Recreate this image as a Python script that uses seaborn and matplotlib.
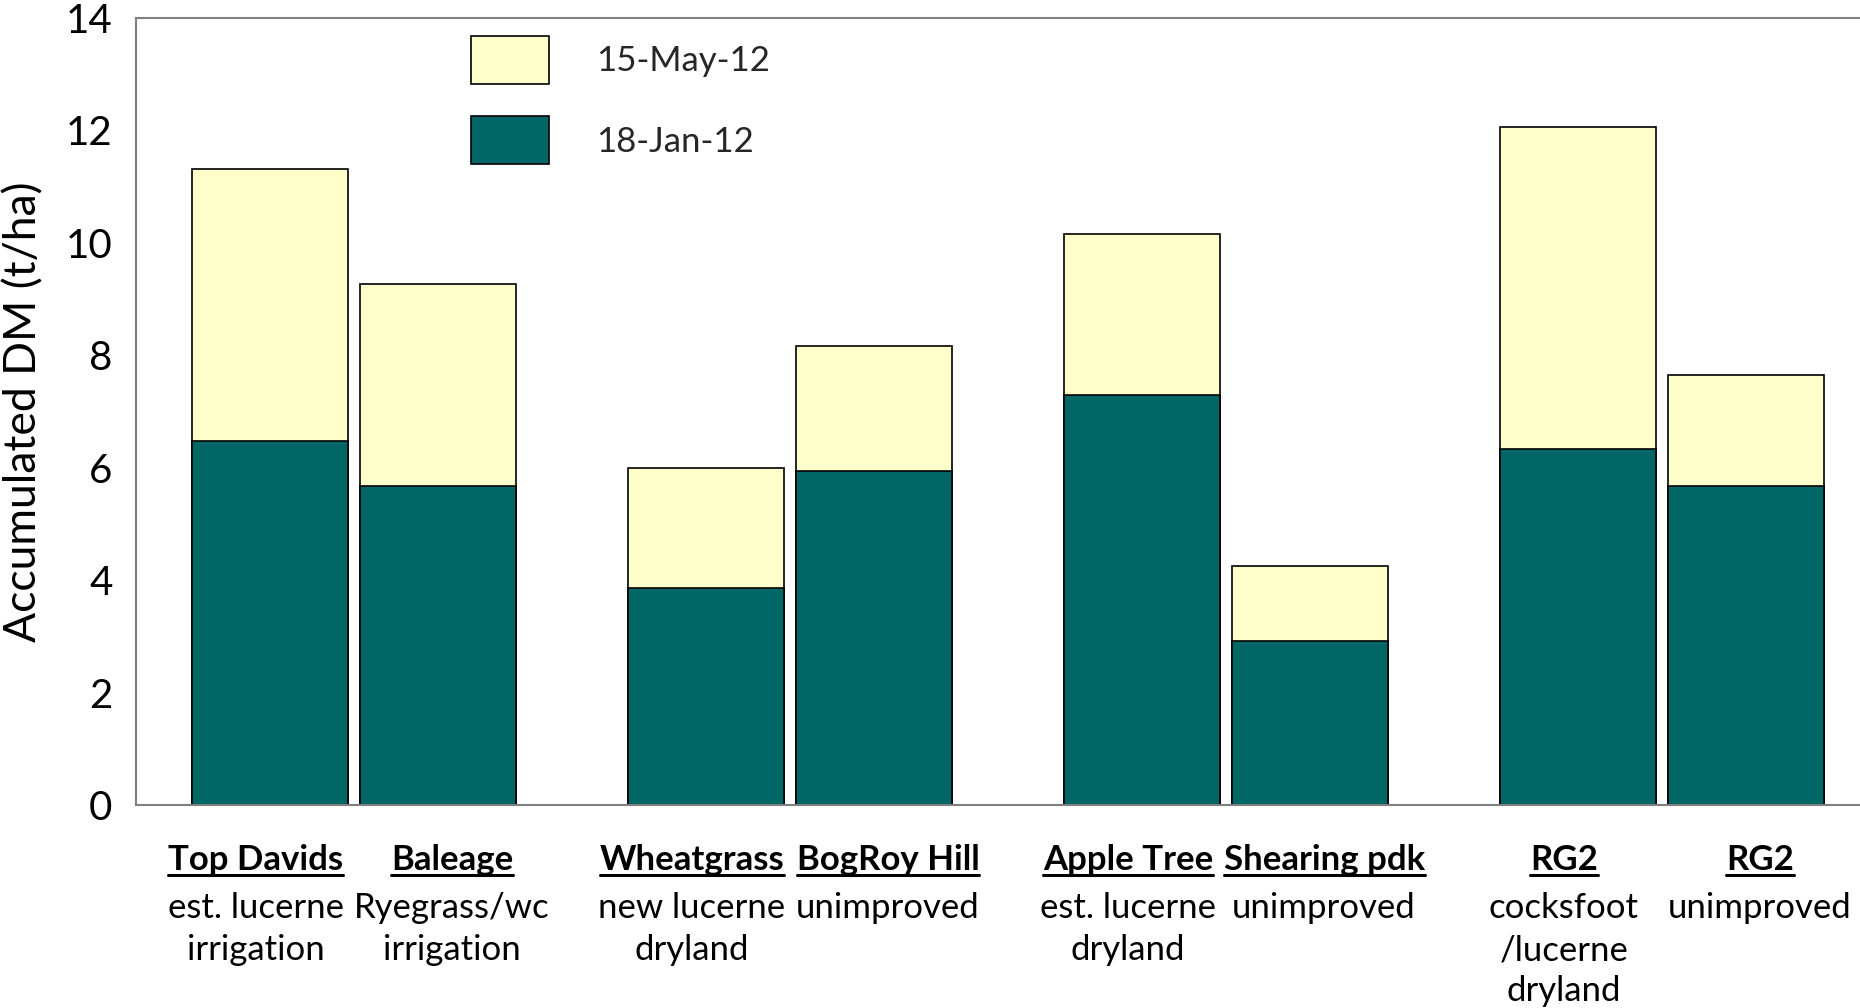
import matplotlib
matplotlib.use("Agg")
import matplotlib.pyplot as plt
from matplotlib.patches import Patch
from matplotlib.lines import Line2D
from matplotlib.transforms import blended_transform_factory
import seaborn as sns
import pandas as pd

# ---- data -------------------------------------------------------------
sites = ["Top Davids", "Baleage", "Wheatgrass", "BogRoy Hill",
         "Apple Tree", "Shearing pdk", "RG2", "RG2"]
site_notes = [["est. lucerne", "irrigation"],
              ["Ryegrass/wc", "irrigation"],
              ["new lucerne", "dryland"],
              ["unimproved"],
              ["est. lucerne", "dryland"],
              ["unimproved"],
              ["cocksfoot", "/lucerne", "dryland"],
              ["unimproved"]]
pair_group = ["g1", "g1", "g2", "g2", "g3", "g3", "g4", "g4"]
pair_slot = ["left", "right"] * 4
dm_jan = [6.47, 5.67, 3.86, 5.95, 7.30, 2.91, 6.33, 5.67]     # 18-Jan-12
dm_may = [11.32, 9.26, 5.99, 8.16, 10.16, 4.26, 12.06, 7.65]  # 15-May-12 (accumulated)
series_labels = ["15-May-12", "18-Jan-12"]
y_ticks = [0, 2, 4, 6, 8, 10, 12, 14]
y_label = "Accumulated DM (t/ha)"

# ---- style ------------------------------------------------------------
DARK = "#006666"
LIGHT = "#FFFFCC"
AXIS_GREY = "#7f7f7f"
W, H, DPI = 1860, 1008, 100

sns.set_theme(style="white")
plt.rcParams["font.family"] = ["Lato", "DejaVu Sans"]

df = pd.DataFrame({"group": pair_group, "slot": pair_slot,
                   "jan": dm_jan, "may": dm_may})
group_order = ["g1", "g2", "g3", "g4"]

fig = plt.figure(figsize=(W / DPI, H / DPI), dpi=DPI)
ax = fig.add_axes([136 / W, 1 - 805 / H, (1880 - 136) / W, (805 - 18) / H])

bar_kw = dict(x="group", hue="slot", order=group_order,
              hue_order=["left", "right"], dodge=True, width=0.768, gap=0.07,
              edgecolor="black", linewidth=1.2, errorbar=None, legend=False,
              ax=ax, saturation=1)
sns.barplot(data=df, y="may", palette={"left": LIGHT, "right": LIGHT}, **bar_kw)
sns.barplot(data=df, y="jan", palette={"left": DARK, "right": DARK}, **bar_kw)

ax.set_xlim(-0.5, 3.5)
ax.set_ylim(0, 14)
ax.set_yticks(y_ticks)
ax.set_yticklabels([str(t) for t in y_ticks])
ax.set_xticks([-0.5, 0, 1, 2, 3])
ax.set_xticklabels([])
ax.set_xlabel("")
ax.set_ylabel(y_label, fontsize=32, color="black")
ax.yaxis.set_label_coords(-(136 - 24) / (1880 - 136), 0.5)
ax.yaxis.label.set_va("center")

for side in ["left", "bottom", "top", "right"]:
    ax.spines[side].set_visible(True)
    ax.spines[side].set_color(AXIS_GREY)
    ax.spines[side].set_linewidth(1.5)
ax.tick_params(axis="both", direction="out", length=11, width=1.5,
               color=AXIS_GREY, labelcolor="black")
ax.tick_params(axis="y", labelsize=29, pad=6)
ax.tick_params(axis="x", labelsize=1)
ax.grid(False)

# ---- two-level category labels under each bar --------------------------
trans = blended_transform_factory(ax.transData, fig.transFigure)
line_y_px = [860, 908, 950, 991]
titles = []
for i, (name, notes) in enumerate(zip(sites, site_notes)):
    gi = group_order.index(pair_group[i])
    xc = gi + (-0.225 if pair_slot[i] == "left" else 0.225)
    t = ax.text(xc, 1 - line_y_px[0] / H, name, transform=trans,
                ha="center", va="center", fontsize=25, fontweight="bold",
                color="black", clip_on=False)
    titles.append(t)
    for k, note in enumerate(notes):
        ax.text(xc, 1 - line_y_px[k + 1] / H, note, transform=trans,
                ha="center", va="center", fontsize=25, color="black",
                clip_on=False)

# underline the site names
fig.canvas.draw()
renderer = fig.canvas.get_renderer()
for t in titles:
    bb = t.get_window_extent(renderer)
    yline = (bb.y0 + 1) / H
    fig.add_artist(Line2D([bb.x0 / W, bb.x1 / W], [yline, yline],
                          transform=fig.transFigure, color="black", lw=2.2))

# ---- legend -------------------------------------------------------------
handles = [Patch(facecolor=LIGHT, edgecolor="black", linewidth=1.2),
           Patch(facecolor=DARK, edgecolor="black", linewidth=1.2)]
fig.legend(handles, series_labels, loc="upper left",
           bbox_to_anchor=(471 / W, 1 - 36 / H), bbox_transform=fig.transFigure,
           frameon=False, fontsize=25, handlelength=2.25, handleheight=1.76,
           labelspacing=0.92, handletextpad=1.35, borderpad=0, borderaxespad=0)

fig.savefig("out.png", dpi=DPI, facecolor="white")
